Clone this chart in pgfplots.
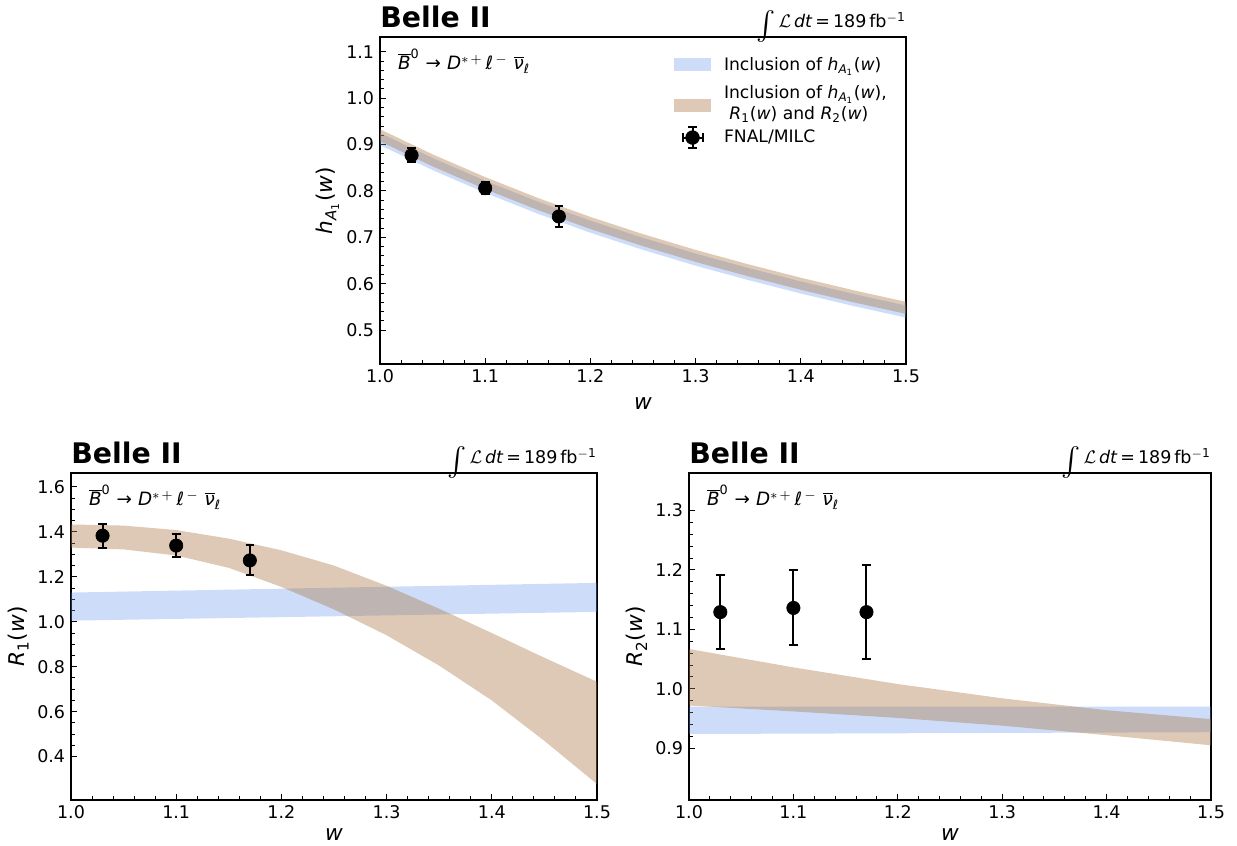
\documentclass[border=0pt]{standalone}
\usepackage{fontspec}
\setmainfont{DejaVu Sans}
\usepackage{amsmath}
\usepackage{pgfplots}
\pgfplotsset{compat=1.18}
\definecolor{bandblue}{RGB}{100,149,237}
\definecolor{bandbrown}{RGB}{169,120,70}
\newcommand{\mi}[1]{\textit{#1}}
\newcommand{\decay}{$\overline{\mi{B}}^{\text{0}}$\,\,→\,\,\mi{D}$^{*\,+}$\,\mi{ℓ}$^{\,-}$\,\,$\overline{\mi{ν}}_{\mi{ℓ}}$}
\newcommand{\lumi}{\raisebox{-3.2pt}{\fontsize{17.5}{17.5}\selectfont$\int$}\,$\mathcal{L}$\,\mi{dt}\,=\,189\,fb$^{-\text{1}}$}
\pgfplotsset{
  myaxis/.style={
    scale only axis, anchor=south west, height=196.2pt,
    xmin=1.0, xmax=1.5, xtick={1.0,1.1,1.2,1.3,1.4,1.5}, minor x tick num=4,
    tick align=inside, xtick pos=left, ytick pos=left,
    major tick length=3.6pt, minor tick length=2.1pt,
    every tick/.style={black, line width=0.6pt},
    axis line style={line width=0.8pt},
    ticklabel style={font=\fontsize{10.5}{12}\selectfont},
    /pgf/number format/assume math mode=true,
    xticklabel style={/pgf/number format/.cd,fixed,fixed zerofill,precision=1},
    yticklabel style={/pgf/number format/.cd,fixed,fixed zerofill,precision=1},
    xlabel={\mi{w}},
    label style={font=\fontsize{13}{15}\selectfont, inner sep=0pt},
    xlabel style={at={(axis description cs:0.5,-0.105)}, anchor=center},
    ylabel style={at={(axis description cs:-0.1,0.5)}, anchor=center},
    clip mode=individual,
  },
  blueband/.style={fill=bandblue, fill opacity=0.32, draw=none},
  brownband/.style={fill=bandbrown, fill opacity=0.4, draw=none},
  pts/.style={black, only marks, mark=*, mark size=4pt,
    error bars/y dir=both, error bars/y explicit,
    error bars/error bar style={line width=1.2pt, black},
    error bars/error mark options={rotate=90, line width=1.2pt, mark size=2.6pt, black}},
}
\begin{document}
\begin{tikzpicture}
\useasboundingbox (0,0) rectangle (742.2pt,507.6pt);
% ---------------- top: h_A1
\begin{axis}[myaxis, name=top, at={(228pt,289.2pt)}, width=315.6pt,
  xlabel style={at={(axis description cs:0.5,-0.12)}},
  ymin=0.427, ymax=1.132, ytick={0.5,0.6,0.7,0.8,0.9,1.0,1.1}, minor y tick num=4,
  ylabel={\mi{h}$_{\mi{A}_{\text{1}}}$(\mi{w})},
  legend style={at={(axis description cs:0.559,0.95)}, anchor=north west, draw=none, fill=none,
    inner sep=0pt, font=\fontsize{10.3}{12.6}\selectfont, row sep=2.6pt, cells={anchor=west},
    /tikz/every odd column/.append style={column sep=6pt}},
  ]
\addplot[blueband, legend image code/.code={\fill[bandblue, fill opacity=0.32] (0pt,-3.9pt) rectangle (21.8pt,3.9pt);}]
  coordinates {(1.00,0.925) (1.05,0.871) (1.10,0.822) (1.15,0.777) (1.20,0.736) (1.25,0.699) (1.30,0.665) (1.35,0.634) (1.40,0.605) (1.45,0.578) (1.50,0.553)
               (1.50,0.527) (1.45,0.552) (1.40,0.579) (1.35,0.608) (1.30,0.639) (1.25,0.673) (1.20,0.710) (1.15,0.751) (1.10,0.796) (1.05,0.845) (1.00,0.899)} --cycle;
\addlegendentry{Inclusion of \mi{h}$_{\mi{A}_{\text{1}}}$(\mi{w})}
\addplot[brownband, legend image code/.code={\path[draw=none, fill=none] (0pt,-6.3pt) rectangle (21.8pt,6.3pt); \fill[bandbrown, fill opacity=0.4] (0pt,-6.3pt) rectangle (21.8pt,1.5pt);}]
  coordinates {(1.00,0.933) (1.05,0.879) (1.10,0.830) (1.15,0.785) (1.20,0.744) (1.25,0.707) (1.30,0.673) (1.35,0.642) (1.40,0.613) (1.45,0.586) (1.50,0.561)
               (1.50,0.535) (1.45,0.560) (1.40,0.587) (1.35,0.616) (1.30,0.647) (1.25,0.681) (1.20,0.718) (1.15,0.759) (1.10,0.804) (1.05,0.853) (1.00,0.907)} --cycle;
\addlegendentry{\begin{tabular}{@{}l@{}}Inclusion of \mi{h}$_{\mi{A}_{\text{1}}}$(\mi{w}),\\ \ \mi{R}$_{\text{1}}$(\mi{w}) and \mi{R}$_{\text{2}}$(\mi{w})\\[8.8pt]\end{tabular}}
\addplot[pts, legend image code/.code={
    \draw[black, line width=1.2pt] (10.9pt,-6.2pt) -- (10.9pt,6.2pt);
    \draw[black, line width=1.2pt] (4.9pt,0pt) -- (16.9pt,0pt);
    \draw[black, line width=1.2pt] (8.3pt,-6.2pt) -- (13.5pt,-6.2pt) (8.3pt,6.2pt) -- (13.5pt,6.2pt);
    \draw[black, line width=1.2pt] (4.9pt,-2.6pt) -- (4.9pt,2.6pt) (16.9pt,-2.6pt) -- (16.9pt,2.6pt);
    \fill[black] (10.9pt,0pt) circle (4.1pt);}]
  table[x=w, y=v, y error=e] {
w v e
1.03 0.877 0.015
1.10 0.806 0.0135
1.17 0.745 0.023
};
\addlegendentry{FNAL/MILC}
\end{axis}
\node[anchor=base west, inner sep=0pt, font=\fontsize{17}{20}\selectfont\bfseries] at ([yshift=5.4pt]top.north west) {Belle II};
\node[anchor=base east, inner sep=0pt, font=\fontsize{10.5}{12}\selectfont] at ([yshift=5.4pt]top.north east) {\lumi};
\node[anchor=base west, inner sep=0pt, font=\fontsize{11}{13}\selectfont] at ([xshift=10.6pt,yshift=-19.8pt]top.north west) {\decay};
% ---------------- bottom left: R1
\begin{axis}[myaxis, name=rone, at={(42.6pt,27.6pt)}, width=315.6pt,
  ymin=0.207, ymax=1.662, ytick={0.4,0.6,0.8,1.0,1.2,1.4,1.6}, minor y tick num=3,
  ylabel={\mi{R}$_{\text{1}}$(\mi{w})},
  ]
\addplot[blueband] coordinates {(1.0,1.130) (1.5,1.173) (1.5,1.044) (1.0,1.005)} --cycle;
\addplot[brownband]
  coordinates {(1.00,1.433) (1.05,1.428) (1.10,1.408) (1.15,1.370) (1.20,1.318) (1.25,1.250) (1.30,1.160) (1.35,1.058) (1.40,0.950) (1.45,0.840) (1.50,0.733)
               (1.50,0.278) (1.45,0.470) (1.40,0.650) (1.35,0.805) (1.30,0.940) (1.25,1.055) (1.20,1.155) (1.15,1.240) (1.10,1.295) (1.05,1.322) (1.00,1.330)} --cycle;
\addplot[pts] table[x=w, y=v, y error=e] {
w v e
1.03 1.383 0.053
1.10 1.339 0.053
1.17 1.273 0.067
};
\end{axis}
\node[anchor=base west, inner sep=0pt, font=\fontsize{17}{20}\selectfont\bfseries] at ([yshift=5.4pt]rone.north west) {Belle II};
\node[anchor=base east, inner sep=0pt, font=\fontsize{10.5}{12}\selectfont] at ([yshift=5.4pt]rone.north east) {\lumi};
\node[anchor=base west, inner sep=0pt, font=\fontsize{11}{13}\selectfont] at ([xshift=10.6pt,yshift=-19.8pt]rone.north west) {\decay};
% ---------------- bottom right: R2
\begin{axis}[myaxis, name=rtwo, at={(413.4pt,27.6pt)}, width=313.2pt,
  ymin=0.813, ymax=1.363, ytick={0.9,1.0,1.1,1.2,1.3}, minor y tick num=4,
  ylabel={\mi{R}$_{\text{2}}$(\mi{w})},
  ]
\addplot[blueband] coordinates {(1.0,0.970) (1.5,0.970) (1.5,0.927) (1.0,0.924)} --cycle;
\addplot[brownband]
  coordinates {(1.0,1.067) (1.1,1.036) (1.2,1.008) (1.3,0.984) (1.4,0.964) (1.5,0.949)
               (1.5,0.905) (1.4,0.922) (1.3,0.938) (1.2,0.951) (1.1,0.962) (1.0,0.972)} --cycle;
\addplot[pts] table[x=w, y=v, y error=e] {
w v e
1.03 1.129 0.062
1.10 1.136 0.063
1.17 1.129 0.079
};
\end{axis}
\node[anchor=base west, inner sep=0pt, font=\fontsize{17}{20}\selectfont\bfseries] at ([yshift=5.4pt]rtwo.north west) {Belle II};
\node[anchor=base east, inner sep=0pt, font=\fontsize{10.5}{12}\selectfont] at ([yshift=5.4pt]rtwo.north east) {\lumi};
\node[anchor=base west, inner sep=0pt, font=\fontsize{11}{13}\selectfont] at ([xshift=10.6pt,yshift=-19.8pt]rtwo.north west) {\decay};
\end{tikzpicture}
\end{document}
